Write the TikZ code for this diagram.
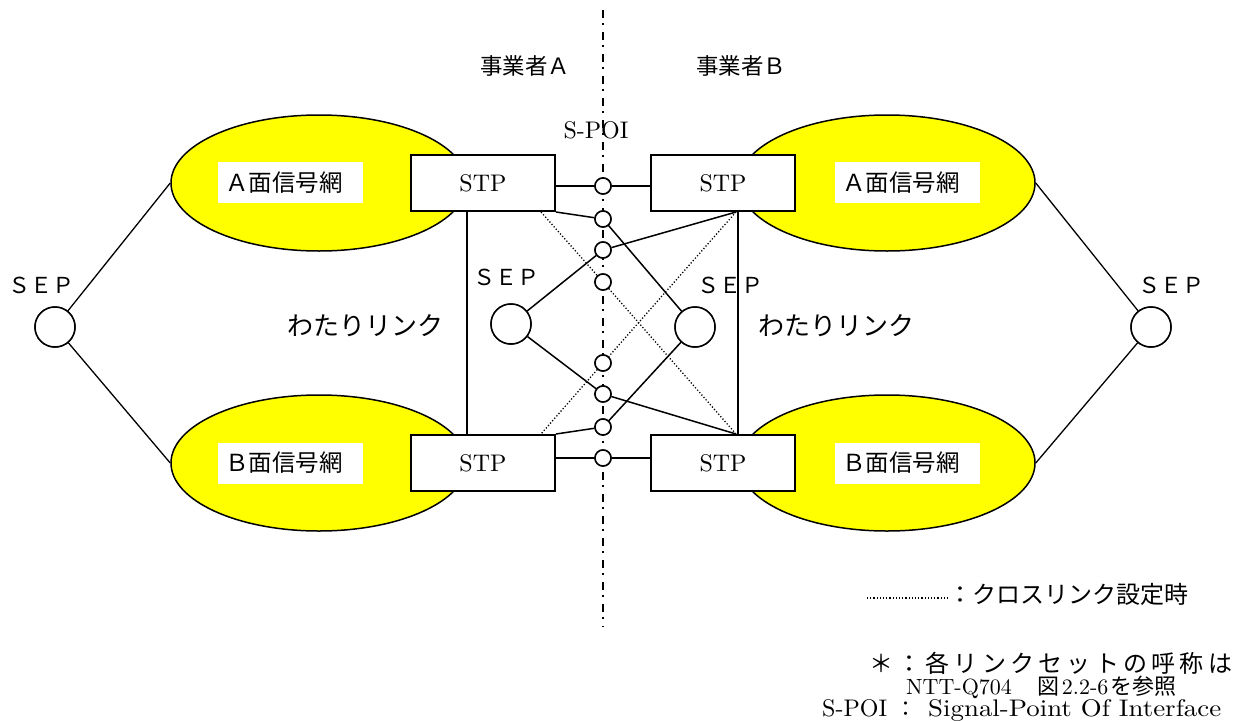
\documentclass[tikz,border=0pt]{standalone}
\usepackage{fontspec}
\usepackage{graphicx}
\setmainfont{lmroman10-regular.otf}
\newfontfamily\jp{Noto Sans CJK JP}
\usetikzlibrary{shapes.geometric,calc}
\definecolor{netyellow}{RGB}{255,255,0}
\newcommand{\gap}{\hfill{}}
\begin{document}
\begin{tikzpicture}[x=1pt,y=-1pt,
  net/.style={ellipse, draw, line width=1.5pt, fill=netyellow,
    minimum width=296pt, minimum height=136pt, inner sep=0pt},
  netlabel/.style={fill=white, inner sep=0pt, minimum height=41pt, anchor=west,
    font=\jp\fontsize{23.5}{28}\selectfont},
  stpbox/.style={draw, fill=white, line width=2pt, minimum width=144pt,
    minimum height=56pt, inner sep=0pt, font=\fontsize{24}{28}\selectfont},
  sepnode/.style={circle, draw, fill=white, line width=1.5pt,
    minimum size=40pt, inner sep=0pt},
  poi/.style={circle, draw, fill=white, line width=1.5pt,
    minimum size=16pt, inner sep=0pt},
  link/.style={line width=1.5pt},
  seplink/.style={line width=1.3pt},
  crosslink/.style={line width=1.3pt, dash pattern=on 1.2pt off 2pt},
  boundary/.style={line width=2pt, dash pattern=on 8pt off 5pt on 2pt off 7pt},
  septext/.style={font=\jp\fontsize{22}{26}\selectfont},
  optext/.style={font=\jp\fontsize{22.5}{27}\selectfont},
  watari/.style={font=\jp\fontsize{26}{30}\selectfont},
  legendjp/.style={anchor=west, inner sep=0pt, font=\jp\fontsize{24}{28}\selectfont},
  legendrm/.style={anchor=base west, inner sep=0pt},
]
\useasboundingbox (0,0) rectangle (1249,720);

% operator boundary (S-POI)
\coordinate (poitop) at (603,10);
\coordinate (poibot) at (603,627);
\draw[boundary] (poitop) -- (poibot);

% signalling networks
\node[net] (lA) at (319,183) {};
\node[net] (lB) at (319,463) {};
\node[net] (rA) at (887,183) {};
\node[net] (rB) at (887,463) {};

\node[netlabel] (lAl) at (218,182.5) {\makebox[145pt][l]{\hspace{7pt}Ａ面信号網}};
\node[netlabel] (lBl) at (218,463) {\makebox[145pt][l]{\hspace{7pt}Ｂ面信号網}};
\node[netlabel] (rAl) at (835,182.5) {\makebox[145pt][l]{\hspace{7pt}Ａ面信号網}};
\node[netlabel] (rBl) at (835,463) {\makebox[145pt][l]{\hspace{7pt}Ｂ面信号網}};

% STPs
\node[stpbox] (lt) at (483,183) {STP};
\node[stpbox] (lb) at (483,463) {STP};
\node[stpbox] (rt) at (723,183) {STP};
\node[stpbox] (rb) at (723,463) {STP};

% SEPs
\node[sepnode] (lsepo) at (55,327) {};
\node[sepnode] (rsepo) at (1151,327) {};
\node[sepnode] (lsep) at (511,324) {};
\node[sepnode] (rsep) at (695,327) {};

% points of interface on the boundary
\node[poi] (c1) at (603,186) {};
\node[poi] (c2) at (603,219) {};
\node[poi] (c3) at (603,250) {};
\node[poi] (c4) at (603,282) {};
\node[poi] (c5) at (603,363) {};
\node[poi] (c6) at (603,394) {};
\node[poi] (c7) at (603,427) {};
\node[poi] (c8) at (603,458) {};

% attachment points on the STP edges
\coordinate (ltd) at ($(lt.south east)+(-15,0)$);
\coordinate (lbd) at ($(lb.north east)+(-15,0)$);
\coordinate (rtp) at ($(rt.south west)+(86,0)$);
\coordinate (rbp) at ($(rb.north west)+(86,0)$);
\coordinate (lwt) at ($(lt.south west)+(57,0)$);
\coordinate (lwb) at ($(lb.north west)+(57,0)$);
\coordinate (rwt) at ($(rt.south west)+(88,0)$);
\coordinate (rwb) at ($(rb.north west)+(88,0)$);

% SEP to networks
\draw[seplink] (lsepo) -- (lA.west);
\draw[seplink] (lsepo) -- (lB.west);
\draw[seplink] (rsepo) -- (rA.east);
\draw[seplink] (rsepo) -- (rB.east);

% bridge links
\draw[link] (lwt) -- (lwb);
\draw[link] (rwt) -- (rwb);

% STP to STP across the boundary
\draw[link] (lt.east |- c1) -- (c1) -- (rt.west |- c1);
\draw[link] (lb.east |- c8) -- (c8) -- (rb.west |- c8);

% SEP links across the boundary
\draw[link] (lt.south east) -- (c2) -- (rsep);
\draw[link] (rtp) -- (c3) -- (lsep);
\draw[link] (lsep) -- (c6) -- (rbp);
\draw[link] (rsep) -- (c7) -- (lb.north east);

% cross links
\draw[crosslink] (ltd) -- (c4) -- (rbp);
\draw[crosslink] (rtp) -- (c5) -- (lbd);

% redraw the circles on top of the links
\foreach \n in {c1,c2,c3,c4,c5,c6,c7,c8}{
  \draw[line width=1.5pt, fill=white] (\n) circle (8pt);
}
\foreach \n in {lsep,rsep,lsepo,rsepo}{
  \draw[line width=1.5pt, fill=white] (\n) circle (20pt);
}

% labels
\node[optext] (opA) at (525,66) {事業者Ａ};
\node[optext] (opB) at (741,66) {事業者Ｂ};
\node[font=\fontsize{24}{28}\selectfont] (spoi) at (596,130) {S-POI};

\node[septext] (lsepot) at (42,285) {ＳＥＰ};
\node[septext] (rsepot) at (1171,285) {ＳＥＰ};
\node[septext] (lsept) at (506,277) {ＳＥＰ};
\node[septext] (rsept) at (730,285) {ＳＥＰ};

\node[watari] (lwat) at (365,326) {わたりリンク};
\node[watari] (rwat) at (836,326) {わたりリンク};

% legend
\coordinate (lg1) at (867,598);
\coordinate (lg2) at (948,598);
\draw[crosslink] (lg1) -- (lg2);
\node[legendjp] (lgcross) at (948,594) {：クロスリンク設定時};
\node[legendjp] (lgnote) at (869,663)
  {\makebox[363pt][s]{＊\gap ：\gap 各\gap リ\gap ン\gap ク\gap セ\gap ッ\gap ト\gap の\gap 呼\gap 称\gap は}};
\node[legendrm, font=\fontsize{22}{26}\selectfont] (lgref) at (906,694)
  {NTT-Q704\hspace{26pt}{\jp 図}\hspace{2pt}2.2-6\hspace{2pt}{\jp を参照}};
\node[legendrm, font=\fontsize{24}{28}\selectfont] (lgpoi) at (822,716)
  {S-POI\hspace{8pt}{\jp\fontsize{21}{24}\selectfont ：}\hspace{12pt}\resizebox{293pt}{\height}{Signal-Point Of Interface}};
\end{tikzpicture}
\end{document}
